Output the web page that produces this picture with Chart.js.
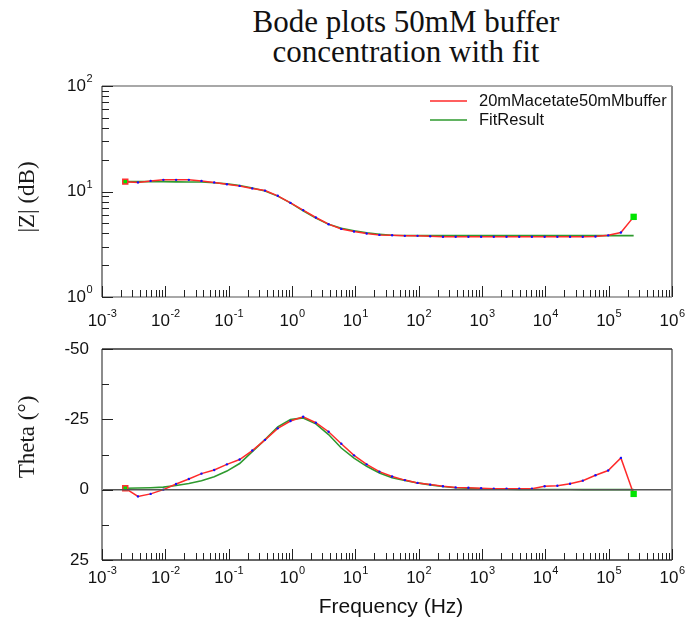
<!DOCTYPE html>
<html>
<head>
<meta charset="utf-8">
<script src="https://cdn.jsdelivr.net/npm/chart.js@4.4.1/dist/chart.umd.min.js"></script>
<style>
body{margin:0;background:#fff;width:688px;height:625px;position:relative;overflow:hidden}
#title{position:absolute;left:0;top:7px;width:812px;text-align:center;font-family:"Liberation Serif",serif;font-size:31px;line-height:30px;color:#111}
.box{position:absolute;left:0;width:688px}
</style>
</head>
<body>
<div id="title">Bode plots 50mM buffer<br>concentration with fit</div>
<div class="box" style="top:0;height:330px"><canvas id="zplot"></canvas></div>
<div class="box" style="top:330px;height:295px"><canvas id="tplot"></canvas></div>
<script>
// frequencies (Hz), 5 points per decade
let freq = [0.00233,0.0037,0.00586,0.00931,0.0148,0.0235,0.0372,0.0591,0.0938,0.149,
  0.236,0.375,0.596,0.946,1.50,2.38,3.78,6.00,9.53,15.1,
  24.0,38.1,60.5,96.0,152,242,384,610,968,1535,
  2438,3870,6140,9750,15490,24550,39000,61900,98200,156000,248000];
// |Z| measured and fit
let zData = [12.4,12.2,12.6,12.9,12.9,12.9,12.6,12.2,11.7,11.3,
  10.7,10.2,9.1,7.8,6.66,5.67,4.90,4.42,4.18,4.00,
  3.88,3.85,3.80,3.80,3.77,3.73,3.72,3.72,3.72,3.72,
  3.72,3.72,3.72,3.72,3.72,3.72,3.72,3.74,3.84,4.09,5.75];
let zFit = [12.4,12.4,12.4,12.4,12.35,12.3,12.3,12.1,11.8,11.4,
  10.8,10.1,9.04,7.8,6.56,5.59,4.90,4.49,4.24,4.05,
  3.94,3.85,3.83,3.82,3.82,3.82,3.82,3.82,3.82,3.82,
  3.82,3.82,3.82,3.82,3.82,3.82,3.82,3.82,3.82,3.82,3.82];
// phase measured and fit (degrees)
let thData = [-0.5,2.4,1.5,0,-2.0,-3.8,-5.7,-7.0,-9.0,-10.7,
  -13.9,-17.7,-21.8,-24.4,-25.9,-23.8,-20.6,-16.3,-12.2,-9.0,
  -6.4,-4.7,-3.4,-2.4,-1.8,-1.2,-0.8,-0.7,-0.5,-0.35,
  -0.35,-0.35,-0.35,-1.2,-1.4,-2.1,-3.2,-5.1,-6.8,-11.3,1.5];
let thFit = [-0.5,-0.6,-0.7,-0.9,-1.5,-2.2,-3.2,-4.6,-6.6,-9.3,
  -13.5,-17.8,-22.3,-24.9,-25.5,-23.4,-19.6,-14.8,-11.2,-8.3,
  -5.9,-4.2,-3.3,-2.4,-1.7,-1.1,-0.7,-0.5,-0.3,-0.2,
  -0.15,-0.1,-0.1,-0.05,-0.05,-0.05,0,0,0,0,0];
let seriesNames = ['20mMacetate50mMbuffer','FitResult'];
let xDecades = [-3,-2,-1,0,1,2,3,4,5,6];
let zDecades = [0,1,2];
let thTicks = [-50,-25,0,25];
let thMinor = [-37.5,-12.5,12.5];

const RED = '#ff2a2a', GREEN = '#2e9a2e';
const SANS = '"Liberation Sans", Arial, sans-serif';
const SERIF = '"Liberation Serif", serif';

function pts(ys){ return freq.map((f,i)=>({x:f,y:ys[i]})); }

function drawPow(ctx, exp, x, y, align){
    ctx.font = '17px ' + SANS;
    let w1 = ctx.measureText('10').width;
    ctx.font = '11px ' + SANS;
    let w2 = ctx.measureText(String(exp)).width;
    let x0 = align=='center' ? x-(w1+w2)/2 : x-(w1+w2);
    ctx.textAlign = 'left';
    ctx.textBaseline = 'middle';
    ctx.font = '17px ' + SANS;
    ctx.fillText('10', x0, y);
    ctx.font = '11px ' + SANS;
    ctx.fillText(String(exp), x0+w1+0.5, y-7);
}

const bodeAxes = {
    id:'bodeAxes',
    afterDraw(chart, args, o){
        let ctx = chart.ctx, a = chart.chartArea, x = chart.scales.x, y = chart.scales.y;
        ctx.save();
        ctx.fillStyle = '#111';
        // zero line
        if(o.zero){
            let py = y.getPixelForValue(0);
            ctx.strokeStyle = '#555'; ctx.lineWidth = 1.5;
            ctx.beginPath(); ctx.moveTo(a.left,py); ctx.lineTo(a.right,py); ctx.stroke();
        }
        // frame
        ctx.lineWidth = 2;
        ctx.strokeStyle = '#8c8c8c';
        ctx.beginPath();
        ctx.moveTo(a.left,a.top); ctx.lineTo(a.left,a.bottom);
        ctx.moveTo(a.right,a.top); ctx.lineTo(a.right,a.bottom);
        ctx.stroke();
        ctx.strokeStyle = o.hColor; ctx.lineWidth = 1.5;
        ctx.beginPath();
        ctx.moveTo(a.left,a.top); ctx.lineTo(a.right,a.top);
        ctx.moveTo(a.left,a.bottom); ctx.lineTo(a.right,a.bottom);
        ctx.stroke();
        // x ticks (inward)
        ctx.strokeStyle = '#222'; ctx.lineWidth = 1;
        ctx.beginPath();
        xDecades.forEach((d,i)=>{
            let px = Math.round(x.getPixelForValue(Math.pow(10,d)))+0.5;
            ctx.moveTo(px,a.bottom); ctx.lineTo(px,a.bottom-11);
            if(i<xDecades.length-1){
                for(let k=2;k<10;k++){
                    let q = Math.round(x.getPixelForValue(k*Math.pow(10,d)))+0.5;
                    ctx.moveTo(q,a.bottom); ctx.lineTo(q,a.bottom-7);
                }
            }
        });
        // y ticks (inward)
        if(o.log){
            zDecades.forEach((d,i)=>{
                let py = Math.round(y.getPixelForValue(Math.pow(10,d)))+0.5;
                ctx.moveTo(a.left,py); ctx.lineTo(a.left+11,py);
                if(i<zDecades.length-1){
                    for(let k=2;k<10;k++){
                        let q = Math.round(y.getPixelForValue(k*Math.pow(10,d)))+0.5;
                        ctx.moveTo(a.left,q); ctx.lineTo(a.left+7,q);
                    }
                }
            });
        } else {
            thTicks.forEach(v=>{
                let py = Math.round(y.getPixelForValue(v))+0.5;
                ctx.moveTo(a.left,py); ctx.lineTo(a.left+11,py);
            });
            thMinor.forEach(v=>{
                let py = Math.round(y.getPixelForValue(v))+0.5;
                ctx.moveTo(a.left,py); ctx.lineTo(a.left+7,py);
            });
        }
        ctx.stroke();
        // x labels
        xDecades.forEach(d=>{
            drawPow(ctx, d, x.getPixelForValue(Math.pow(10,d)), a.bottom+o.xLabelGap, 'center');
        });
        // y labels
        if(o.log){
            zDecades.forEach(d=>{
                drawPow(ctx, d, a.left-10, y.getPixelForValue(Math.pow(10,d)), 'right');
            });
        } else {
            ctx.font = '17px ' + SANS;
            ctx.textAlign = 'right'; ctx.textBaseline = 'middle';
            thTicks.forEach(v=>{
                ctx.fillText(String(v), a.left-13, y.getPixelForValue(v));
            });
        }
        // y title
        ctx.save();
        ctx.translate(28, o.yTitleY);
        ctx.rotate(-Math.PI/2);
        ctx.font = '23px ' + SERIF;
        ctx.textAlign = 'center'; ctx.textBaseline = 'middle';
        ctx.fillStyle = '#1a1a1a';
        ctx.fillText(o.yTitle, 0, 0);
        ctx.restore();
        // x title
        if(o.xTitle){
            ctx.font = '21px ' + SANS;
            ctx.textAlign = 'center'; ctx.textBaseline = 'middle';
            ctx.fillText(o.xTitle, (a.left+a.right)/2+4, a.bottom+47);
        }
        // legend
        if(o.legend){
            let cols = [RED, GREEN];
            seriesNames.forEach((n,i)=>{
                let ly = a.top + 15 + i*19;
                ctx.strokeStyle = cols[i]; ctx.lineWidth = 1.5;
                ctx.beginPath(); ctx.moveTo(a.right-242,ly); ctx.lineTo(a.right-205,ly); ctx.stroke();
                ctx.font = '16.5px ' + SANS;
                ctx.textAlign = 'left'; ctx.textBaseline = 'middle';
                ctx.fillStyle = '#111';
                ctx.fillText(n, a.right-193, ly);
            });
        }
        ctx.restore();
    }
};

function makeChart(id, dataY, fitY, yScale, pad, xH, axesOpts){
    let last = freq.length-1;
    return new Chart(document.getElementById(id), {
        type:'line',
        data:{
            datasets:[
                {
                    label:'ends',
                    data:[{x:freq[0],y:dataY[0]},{x:freq[last],y:dataY[last]}],
                    showLine:false,
                    pointStyle:'rect',
                    pointRadius:[3.5,4.5],
                    pointBackgroundColor:'#00e400',
                    pointBorderColor:['#ff3030','#00e400'],
                    pointBorderWidth:[1.5,0]
                },
                {
                    label:seriesNames[0],
                    data:pts(dataY),
                    borderColor:RED,
                    borderWidth:1.5,
                    pointRadius:1.2,
                    pointBorderWidth:0,
                    pointBackgroundColor:'#1010ff'
                },
                {
                    label:seriesNames[1],
                    data:pts(fitY),
                    borderColor:GREEN,
                    borderWidth:1.6,
                    pointRadius:0
                }
            ]
        },
        options:{
            responsive:true,
            maintainAspectRatio:false,
            animation:false,
            layout:{padding:{top:pad,right:16,left:0,bottom:0}},
            plugins:{legend:{display:false},tooltip:{enabled:false},bodeAxes:axesOpts},
            scales:{
                x:{
                    type:'logarithmic', min:1e-3, max:1e6,
                    ticks:{display:false}, grid:{display:false}, border:{display:false},
                    afterFit:(s)=>{ s.height = xH; }
                },
                y:Object.assign({
                    ticks:{display:false}, grid:{display:false}, border:{display:false},
                    afterFit:(s)=>{ s.width = 102; }
                }, yScale)
            }
        },
        plugins:[bodeAxes]
    });
}

makeChart('zplot', zData, zFit, {type:'logarithmic', min:1, max:100}, 86, 33,
    {log:true, hColor:'#8c8c8c', xLabelGap:24, yTitle:'|Z| (dB)', yTitleY:197, legend:true});
makeChart('tplot', thData, thFit, {type:'linear', min:-50, max:25, reverse:true}, 19, 65,
    {log:false, zero:true, hColor:'#333', xLabelGap:18, yTitle:'Theta (°)', yTitleY:107, xTitle:'Frequency (Hz)'});
</script>
</body>
</html>
